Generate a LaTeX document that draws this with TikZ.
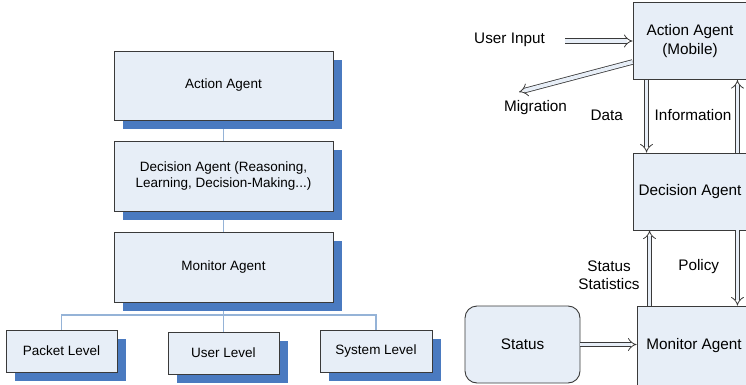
\documentclass[tikz,border=0pt]{standalone}
\usepackage{fontspec}
\setmainfont{Liberation Sans}
\usetikzlibrary{arrows.meta,shadows}
\definecolor{boxfill}{HTML}{E7EEF7}
\definecolor{shadowblue}{HTML}{4A7AC0}
\definecolor{linkblue}{HTML}{95B3D7}
\definecolor{edgegray}{HTML}{3A3A3A}
\tikzset{
  lbox/.style={draw=edgegray, line width=0.9pt, fill=boxfill, align=center,
    inner sep=0pt, font=\fontsize{13.5}{16.5}\selectfont,
    general shadow={fill=shadowblue, shadow xshift=9pt, shadow yshift=-9pt}},
  rbox/.style={draw=edgegray, line width=0.9pt, fill=boxfill, align=center,
    inner sep=0pt, font=\fontsize{15.3}{19.5}\selectfont},
  lbl/.style={align=center, inner sep=0pt, font=\fontsize{15.3}{17.7}\selectfont},
  link/.style={draw=linkblue, line width=1.2pt},
  dbl/.style={draw=edgegray, line width=0.8pt, double=boxfill, double distance=3.8pt, -{Implies}}
}
\begin{document}
\begin{tikzpicture}[x=1pt,y=-1pt]
\useasboundingbox (0,0) rectangle (746,385);
\clip (0,0) rectangle (746,385);
% left hierarchy
\draw[link] (223.5,120) -- (223.5,141);
\draw[link] (223.5,211) -- (223.5,232);
\draw[link] (223.5,302) -- (223.5,315) (61.5,330) -- (61.5,315) -- (376,315) -- (376,330) (223.5,315) -- (223.5,332);
\node[lbox, minimum width=219pt, minimum height=69pt] (la) at (223.5,85.5) {Action Agent};
\node[lbox, minimum width=219pt, minimum height=70pt] (ld) at (223.5,176) {Decision Agent (Reasoning,\\Learning, Decision-Making...)};
\node[lbox, minimum width=219pt, minimum height=70pt] (lm) at (223.5,267) {Monitor Agent};
\node[lbox, minimum width=111pt, minimum height=42pt] (lp) at (61.5,351) {Packet Level};
\node[lbox, minimum width=111pt, minimum height=42pt] (lu) at (223.5,353) {User Level};
\node[lbox, minimum width=112pt, minimum height=42pt] (ls) at (376,351) {System Level};
% right diagram
\node[rbox, minimum width=114pt, minimum height=77pt] (ra) at (690,41) {Action Agent\\(Mobile)};
\node[rbox, minimum width=114pt, minimum height=77pt] (rd) at (690,191.5) {Decision Agent};
\node[rbox, minimum width=114pt, minimum height=80pt] (rm) at (694,346) {Monitor Agent};
\node[rbox, rounded corners=12pt, minimum width=115pt, minimum height=77pt] (st) at (522.5,344.5) {Status};
\coordinate (ui) at (565,41);
\coordinate (mig) at (519,92);
\draw[dbl] (ui) -- (ra.west);
\draw[dbl] ([yshift=-21pt]ra.west) -- (mig);
\draw[dbl] ([xshift=14pt]ra.south west) -- ([xshift=14pt]rd.north west);
\draw[dbl] ([xshift=-10pt]rd.north east) -- ([xshift=-10pt]ra.south east);
\draw[dbl] ([xshift=13pt]rm.north west) -- ([xshift=17pt]rd.south west);
\draw[dbl] ([xshift=-10pt]rd.south east) -- ([xshift=-14pt]rm.north east);
\draw[dbl] (st.east) -- (st.east -| rm.west);
\node[lbl] (tui) at (509.5,40) {User Input};
\node[lbl] (tmig) at (535.5,108) {Migration};
\node[lbl] (tdata) at (606.7,115) {Data};
\node[lbl] (tinfo) at (693,115) {Information};
\node[lbl] (tstat) at (609,275.5) {Status\\Statistics};
\node[lbl] (tpol) at (698.7,267) {Policy};
\end{tikzpicture}
\end{document}
